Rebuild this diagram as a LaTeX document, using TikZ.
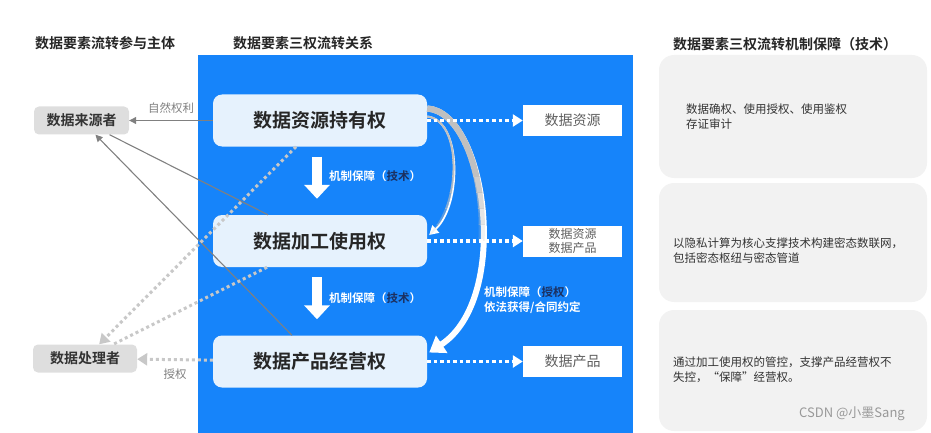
\documentclass[tikz,border=0pt]{standalone}
\usepackage{fontspec}
\setmainfont{Noto Sans CJK SC}[BoldFont={Noto Sans CJK SC Bold}]
\usetikzlibrary{positioning}
\usetikzlibrary{calc}
\usetikzlibrary{arrows.meta}
\definecolor{bgblue}{RGB}{22,132,250}
\definecolor{nodeblue}{RGB}{230,242,253}
\definecolor{leftgray}{RGB}{222,222,222}
\definecolor{panelgray}{RGB}{242,242,242}
\definecolor{linegray}{RGB}{128,128,128}
\definecolor{dotgray}{RGB}{200,200,200}
\definecolor{bandgray}{RGB}{192,192,192}
\definecolor{navy}{RGB}{28,48,96}
\definecolor{textgray}{RGB}{95,95,95}

\begin{document}
\begin{tikzpicture}[x=1pt, y=-1pt, font=\fontsize{12}{15}\selectfont]
    \tikzstyle{title}=[font=\fontsize{14}{16}\selectfont\bfseries, text=black!85]
    \tikzstyle{party}=[fill=leftgray, rounded corners=5pt, minimum height=28pt, inner sep=0pt, font=\fontsize{14}{16}\selectfont\bfseries, text=black!80]
    \tikzstyle{rights}=[fill=nodeblue, rounded corners=9pt, minimum width=214pt, minimum height=52pt, inner sep=0pt, font=\fontsize{19}{22}\selectfont\bfseries, text=black!85]
    \tikzstyle{outbox}=[fill=white, minimum width=99pt, minimum height=31pt, inner sep=0pt, text=textgray, align=center]
    \tikzstyle{panel}=[fill=panelgray, rounded corners=15pt, minimum width=268pt, inner sep=0pt]
    \tikzstyle{note}=[anchor=west, align=left, inner sep=0pt, font=\fontsize{11.5}{15}\selectfont, text=black!80]
    \tikzstyle{tag}=[anchor=west, align=left, inner sep=0pt, font=\fontsize{11.5}{15}\selectfont\bfseries, text=white]
    \tikzstyle{link}=[draw=linegray, line width=1.1pt, >={Triangle[width=7pt,length=7pt]}]
    \tikzstyle{share}=[draw=dotgray, line width=3pt, dash pattern=on 3pt off 3pt, >={Triangle[width=12pt,length=10pt]}]
    \tikzstyle{flow}=[draw=white, line width=3.5pt, dash pattern=on 3.5pt off 3pt, -{Triangle[width=12pt,length=10pt]}]
    \tikzstyle{pushdown}=[draw=white, line width=10pt, -{Triangle[width=25pt,length=14pt]}, shorten <=10pt, shorten >=16pt]

    \useasboundingbox (0,0) rectangle (931,433);
    \fill[bgblue] (198,55) rectangle (633,433);

    \node[title] (ttl1) at (105,43) {数据要素流转参与主体};
    \node[title] (ttl2) at (303,43) {数据要素三权流转关系};
    \node[title] (ttl3) at (785,44) {数据要素三权流转机制保障（技术）};

    \node[panel, minimum height=123pt] (tech1) at (793,116.5) {};
    \node[panel, minimum height=119pt] (tech2) at (793,242.5) {};
    \node[panel, minimum height=121pt] (tech3) at (793,370.5) {};
    \node[note] (txt1) at (686,116.5) {数据确权、使用授权、使用鉴权\\存证审计};
    \node[note] (txt2) at (673,250.5) {以隐私计算为核心支撑技术构建密态数联网，\\包括密态枢纽与密态管道};
    \node[note] (txt3) at (673,370) {通过加工使用权的管控，支撑产品经营权不\\失控，“保障”经营权。};
    \node[text=black!40, font=\fontsize{13}{15}\selectfont] (mark) at (852,414) {CSDN @小墨Sang};

    \node[rights] (hold) at (320,120.5) {数据资源持有权};
    \node[rights] (use) at (320,241) {数据加工使用权};
    \node[rights] (prod) at (320,361.5) {数据产品经营权};

    \node[outbox, font=\fontsize{14}{16}\selectfont] (res) at (572.5,120.5) {数据资源};
    \node[outbox, font=\fontsize{12}{14}\selectfont] (both) at (572.5,241) {数据资源\\数据产品};
    \node[outbox, font=\fontsize{14}{16}\selectfont] (goods) at (572.5,361.5) {数据产品};

    \node[party, minimum width=95pt] (src) at (81.5,120.5) {数据来源者};
    \node[party, minimum width=104pt] (proc) at (85,358.5) {数据处理者};

    \draw[pushdown] ([xshift=-3pt]hold.south) -- ([xshift=-3pt]use.north);
    \draw[pushdown] ([xshift=-3pt]use.south) -- ([xshift=-3pt]prod.north);
    \node[tag] (mech1) at (329,176) {机制保障（{\color{navy}技术}）};
    \node[tag] (mech2) at (329,298) {机制保障（{\color{navy}技术}）};

    \draw[white, line width=6pt, -{Triangle[width=20pt,length=15pt]}] ($(hold.east)+(0,-12)$) .. controls (486,112) and (512,298) .. ($(prod.east)+(2,-9)$);
    \draw[white, line width=1.8pt, -{Triangle[width=10pt,length=9pt]}] ($(hold.east)+(0,-4)$) .. controls (462,120) and (462,205) .. ($(use.east)+(2,-6)$);
    \foreach \k [evaluate=\k as \op using {min(1,(9-\k)/5)}] in {0,...,9} {
        \begin{scope}
            \clip (420,96+\k*16) rectangle (530,112+\k*16);
            \draw[bandgray, draw opacity=\op, line width=6.2pt] ($(hold.east)+(0,-12)$) .. controls (486,112) and (512,298) .. ($(prod.east)+(2,-9)$);
            \draw[bandgray, draw opacity=\op, line width=2pt] ($(hold.east)+(0,-4)$) .. controls (462,120) and (462,205) .. ($(use.east)+(2,-6)$);
        \end{scope}
    }
    \node[tag] (mech3) at (484,300) {机制保障（{\color{navy}授权}）\\依法获得/合同约定};

    \draw[flow] (hold) -- (res);
    \draw[flow] (use) -- (both);
    \draw[flow] (prod) -- (goods);

    \draw[link, ->] (hold) -- (src) node[midway, above=3pt, text=linegray, font=\fontsize{11.5}{14}\selectfont] {自然权利};
    \draw[link] (src) -- ([xshift=-52pt]use.north);
    \draw[link, ->] ([xshift=-28pt]prod.north) -- (src);
    \draw[share, ->] ([xshift=-24pt]hold.south) -- (proc);
    \draw[share] ([xshift=-53pt]use.south) -- (proc);
    \draw[share, ->] (prod) -- (proc) node[midway, below=4pt, text=linegray, font=\fontsize{11.5}{14}\selectfont] {授权};
\end{tikzpicture}
\end{document}
